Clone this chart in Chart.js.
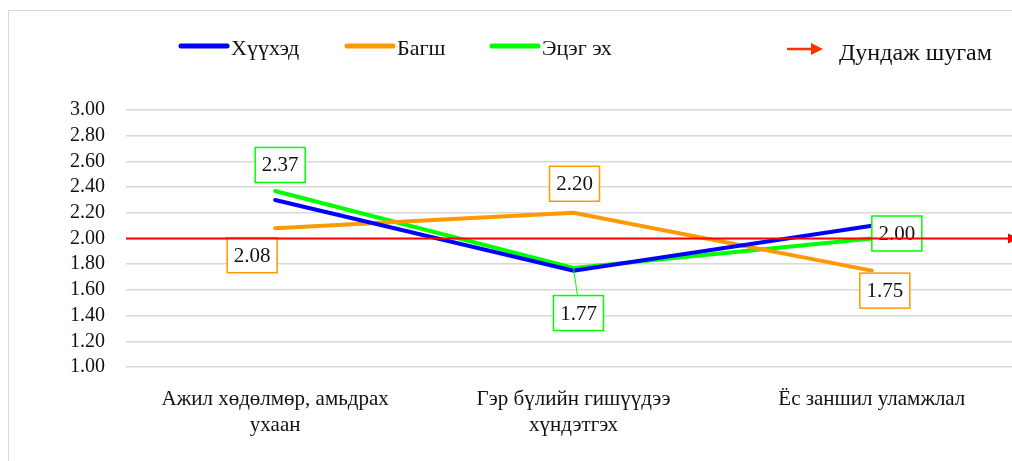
<!DOCTYPE html>
<html>
<head>
<meta charset="utf-8">
<script src="https://cdn.jsdelivr.net/npm/chart.js@4.4.1/dist/chart.umd.min.js"></script>
<style>
  html, body { margin: 0; padding: 0; background: #fff; overflow: hidden; width: 1012px; height: 461px; }
  #frame { position: absolute; left: 8px; top: 10px; width: 1100px; height: 500px; border: 1.5px solid #d9d9d9; }
  #wrap { position: absolute; left: 0; top: 0; width: 1021px; height: 461px; }
</style>
</head>
<body>
<div id="frame"></div>
<div id="wrap"><canvas id="lineChart"></canvas></div>
<script>
// categories and series
var categories = [['Ажил хөдөлмөр, амьдрах', 'ухаан'], ['Гэр бүлийн гишүүдээ', 'хүндэтгэх'], 'Ёс заншил уламжлал'];
var seriesNames = ['Хүүхэд', 'Багш', 'Эцэг эх'];
var childValues = [2.30, 1.75, 2.10];
var teacherValues = [2.08, 2.20, 1.75];
var parentValues = [2.37, 1.77, 2.00];
var meanValue = 2.00;
var meanLabel = 'Дундаж шугам';
var yTicks = [1.00, 1.20, 1.40, 1.60, 1.80, 2.00, 2.20, 2.40, 2.60, 2.80, 3.00];

var colors = ['#0000ff', '#ff9900', '#00ff00'];
var serif = '"Liberation Serif", "DejaVu Serif", serif';

// which points carry a boxed label and where it sits (dataset, index, dx, dy, leader)
var boxLabels = [
    { ds: 2, i: 0, dx: 5, dy: -26 },
    { ds: 1, i: 0, dx: -23, dy: 27 },
    { ds: 1, i: 1, dx: 1, dy: -29 },
    { ds: 2, i: 1, dx: 5, dy: 45, leader: true },
    { ds: 2, i: 2, dx: 25, dy: -5 },
    { ds: 1, i: 2, dx: 13, dy: 20 }
];

var boxLabelPlugin = {
    id: 'boxLabels',
    afterDatasetsDraw: function(chart) {
        var ctx = chart.ctx;
        ctx.save();
        ctx.font = '21px ' + serif;
        ctx.textAlign = 'center';
        ctx.textBaseline = 'middle';
        boxLabels.forEach(function(b) {
            var pt = chart.getDatasetMeta(b.ds).data[b.i];
            var val = chart.data.datasets[b.ds].data[b.i];
            var cx = pt.x + b.dx, cy = pt.y + b.dy;
            var w = 50, h = 35;
            if (b.leader) {
                ctx.strokeStyle = colors[b.ds];
                ctx.lineWidth = 1;
                ctx.beginPath();
                ctx.moveTo(pt.x, pt.y);
                ctx.lineTo(cx - 1, cy - h / 2);
                ctx.stroke();
            }
            ctx.fillStyle = '#fff';
            ctx.fillRect(cx - w / 2, cy - h / 2, w, h);
            ctx.strokeStyle = colors[b.ds];
            ctx.lineWidth = 1.5;
            ctx.strokeRect(cx - w / 2, cy - h / 2, w, h);
            ctx.fillStyle = '#111';
            ctx.fillText(val.toFixed(2), cx, cy + 1);
        });
        ctx.restore();
    }
};

// red mean line with arrow, plus the legend on top
var meanLinePlugin = {
    id: 'meanLine',
    afterDraw: function(chart) {
        var ctx = chart.ctx;
        var area = chart.chartArea;
        var y = chart.scales.y.getPixelForValue(meanValue);
        ctx.save();
        ctx.strokeStyle = '#ff0000';
        ctx.fillStyle = '#ff0000';
        ctx.lineWidth = 2;
        ctx.beginPath();
        ctx.moveTo(area.left, y);
        ctx.lineTo(area.right - 10, y);
        ctx.stroke();
        ctx.beginPath();
        ctx.moveTo(area.right - 13, y - 5);
        ctx.lineTo(area.right - 2, y);
        ctx.lineTo(area.right - 13, y + 5);
        ctx.closePath();
        ctx.fill();

        // legend
        var legendX = [181, 347, 492];
        ctx.lineCap = 'round';
        ctx.font = '22px ' + serif;
        ctx.textBaseline = 'alphabetic';
        ctx.textAlign = 'left';
        seriesNames.forEach(function(name, k) {
            ctx.strokeStyle = colors[k];
            ctx.lineWidth = 5;
            ctx.beginPath();
            ctx.moveTo(legendX[k], 46);
            ctx.lineTo(legendX[k] + 46, 46);
            ctx.stroke();
            ctx.fillStyle = '#111';
            ctx.fillText(name, legendX[k] + 50, 55);
        });
        ctx.lineCap = 'butt';
        ctx.strokeStyle = '#ff3300';
        ctx.fillStyle = '#ff3300';
        ctx.lineWidth = 2.5;
        ctx.beginPath();
        ctx.moveTo(787, 49);
        ctx.lineTo(814, 49);
        ctx.stroke();
        ctx.beginPath();
        ctx.moveTo(811, 43);
        ctx.lineTo(823, 49);
        ctx.lineTo(811, 55);
        ctx.closePath();
        ctx.fill();
        ctx.fillStyle = '#111';
        ctx.font = '24px ' + serif;
        ctx.fillText(meanLabel, 839, 60);
        ctx.restore();
    }
};

var ctx = document.getElementById('lineChart');
var myChart = new Chart(ctx, {
    type: 'line',
    data: {
        labels: categories,
        datasets: [
            { label: seriesNames[0], data: childValues, borderColor: colors[0], backgroundColor: colors[0] },
            { label: seriesNames[1], data: teacherValues, borderColor: colors[1], backgroundColor: colors[1] },
            { label: seriesNames[2], data: parentValues, borderColor: colors[2], backgroundColor: colors[2] }
        ]
    },
    options: {
        responsive: true,
        maintainAspectRatio: false,
        animation: false,
        layout: { padding: { top: 110, left: 0, right: 0, bottom: 0 } },
        elements: {
            line: { borderWidth: 4, tension: 0, borderCapStyle: 'round', borderJoinStyle: 'miter' },
            point: { radius: 0, hoverRadius: 0 }
        },
        plugins: {
            legend: { display: false },
            tooltip: { enabled: false }
        },
        scales: {
            x: {
                offset: true,
                grid: { display: false },
                border: { display: false },
                ticks: {
                    color: '#111',
                    font: { family: serif, size: 21, lineHeight: 1.22 },
                    padding: 12,
                    maxRotation: 0,
                    autoSkip: false
                },
                afterFit: function(scale) { scale.height = 94; }
            },
            y: {
                min: 1,
                max: 3,
                afterBuildTicks: function(scale) {
                    scale.ticks = yTicks.map(function(v) { return { value: v }; });
                },
                grid: { color: '#d9d9d9', lineWidth: 1.5, drawTicks: false },
                border: { display: false },
                ticks: {
                    color: '#111',
                    font: { family: serif, size: 20 },
                    padding: 21,
                    autoSkip: false,
                    callback: function(v) { return Number(v).toFixed(2); }
                },
                afterFit: function(scale) { scale.width = 126; }
            }
        }
    },
    plugins: [boxLabelPlugin, meanLinePlugin]
});
</script>
</body>
</html>
